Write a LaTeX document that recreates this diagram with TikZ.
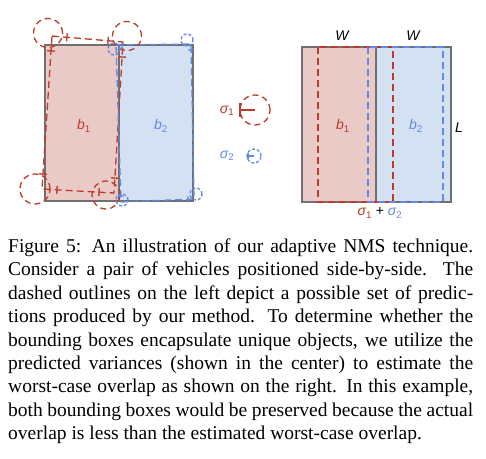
\documentclass[tikz,border=0pt]{standalone}
\usepackage{fontspec}
\setmainfont{Liberation Serif}
\setsansfont{Liberation Sans}
\usetikzlibrary{positioning, calc}

\definecolor{boxred}{RGB}{190,58,42}
\definecolor{boxblue}{RGB}{98,138,228}
\definecolor{fillred}{RGB}{233,202,198}
\definecolor{fillblue}{RGB}{212,225,243}
\definecolor{boxgray}{RGB}{112,112,112}

\tikzset{
	gtbox/.style={draw=boxgray, line width=1.6pt},
	reddash/.style={draw=boxred, line width=1.3pt, dash pattern=on 7pt off 4pt},
	bluedash/.style={draw=boxblue, line width=1.3pt, dash pattern=on 7pt off 4pt},
	redcirc/.style={shape=circle, reddash, dash pattern=on 6pt off 4pt, inner sep=0pt},
	bluecirc/.style={shape=circle, bluedash, dash pattern=on 3pt off 2pt, inner sep=0pt},
	lbl/.style={font=\sffamily\itshape\fontsize{14}{16}\selectfont, inner sep=0pt}
}

\newcommand{\sub}[1]{\textsubscript{\normalfont\sffamily #1}}

\begin{document}
\begin{tikzpicture}[x=1pt, y=-1pt]
	\useasboundingbox (0,0) rectangle (486,458);

	\coordinate (g1) at (45,45);
	\coordinate (g2) at (119,45);
	\coordinate (g3) at (193,45);
	\coordinate (g4) at (193,201);
	\coordinate (g5) at (119,201);
	\coordinate (g6) at (45,201);

	\fill[fillred] (g1) rectangle (g5);
	\fill[fillblue] (g2) rectangle (g4);
	\draw[gtbox] (g1) rectangle (g4);
	\draw[gtbox] (g2) -- (g5);

	\coordinate (r1) at (52,36);
	\coordinate (r2) at (123,42);
	\coordinate (r3) at (114,193);
	\coordinate (r4) at (42,189);
	\draw[reddash] (r1) -- (r2) -- (r3) -- (r4) -- cycle;

	\coordinate (u1) at (116,45);
	\coordinate (u2) at (191,44);
	\coordinate (u3) at (194,199);
	\coordinate (u4) at (121,202);
	\draw[bluedash] (u1) -- (u2) -- (u3) -- (u4) -- cycle;

	\node[redcirc, minimum size=29pt] (c1) at (48,33) {};
	\node[redcirc, minimum size=29pt] (c2) at (127,36) {};
	\node[redcirc, minimum size=28pt] (c3) at (106,195) {};
	\node[redcirc, minimum size=30pt] (c4) at (35,189) {};

	\node[bluecirc, minimum size=12pt] (d1) at (114,49) {};
	\node[bluecirc, minimum size=12pt] (d2) at (187,40) {};
	\node[bluecirc, minimum size=12pt] (d3) at (196,194) {};
	\node[bluecirc, minimum size=12pt] (d4) at (122,200) {};

	\foreach \a/\b in {r1/r2, r1/r4, r2/r1, r2/r3, r3/r2, r3/r4, r4/r1, r4/r3} {
		\draw[boxred, line width=1.3pt] ($(\a)!15pt!(\b)!4pt!90:(\b)$) -- ($(\a)!15pt!(\b)!4pt!-90:(\b)$);
	}
	\foreach \a/\b in {u1/u2, u2/u3, u3/u4, u4/u1} {
		\draw[boxblue, line width=1.2pt] ($(\a)!6pt!(\b)!3pt!90:(\b)$) -- ($(\a)!6pt!(\b)!3pt!-90:(\b)$);
	}

	\node[lbl, text=boxred] (b1) at (84,126) {b\sub{1}};
	\node[lbl, text=boxblue] (b2) at (161,126) {b\sub{2}};

	\node[lbl, text=boxred] (s1) at (227,111) {σ\sub{1}};
	\node[redcirc, minimum size=30pt] (v1) at (255,110) {};
	\coordinate (v1e) at (240,110);
	\draw[boxred, line width=1.3pt] (v1.center) -- (v1e);
	\draw[boxred, line width=1.3pt] ($(v1e)+(0,-7)$) -- ($(v1e)+(0,7)$);

	\node[lbl, text=boxblue] (s2) at (227,156) {σ\sub{2}};
	\node[bluecirc, minimum size=14pt] (v2) at (254,156) {};
	\coordinate (v2e) at (248,156);
	\draw[boxblue, line width=1.2pt] (v2.center) -- (v2e);
	\draw[boxblue, line width=1.2pt] ($(v2e)+(0,-3)$) -- ($(v2e)+(0,3)$);

	\coordinate (h1) at (302,47);
	\coordinate (h2) at (376,47);
	\coordinate (h3) at (451,202);
	\coordinate (h4) at (376,202);

	\fill[fillred] (h1) rectangle (h4);
	\fill[fillblue] (h2) rectangle (h3);
	\draw[gtbox] (h1) rectangle (h3);
	\draw[gtbox] (h2) -- (h4);
	\draw[reddash] (318,47) rectangle (393,202);
	\draw[bluedash] (368,47) rectangle (443,202);

	\node[lbl] (w1) at (342,36) {W};
	\node[lbl] (w2) at (413,36) {W};
	\node[lbl] (len) at (459,128) {L};
	\node[lbl, text=boxred] (b3) at (343,126) {b\sub{1}};
	\node[lbl, text=boxblue] (b4) at (416,126) {b\sub{2}};
	\node[lbl] (sum) at (380,213) {\textcolor{boxred}{σ\sub{1}} \textup{+} \textcolor{boxblue}{σ\sub{2}}};

	\node[anchor=north west, inner sep=0pt, text width=465pt, align=justify,
		font=\fontsize{19.5}{23.4}\selectfont] (cap) at (8,238.5) {%
Figure 5: An illustration of our adaptive NMS technique.\linebreak
Consider a pair of vehicles positioned side-by-side. The\linebreak
dashed outlines on the left depict a possible set of predic-\linebreak
tions produced by our method. To determine whether the\linebreak
bounding boxes encapsulate unique objects, we utilize the\linebreak
predicted variances (shown in the center) to estimate the\linebreak
worst-case overlap as shown on the right. In this example,\linebreak
both bounding boxes would be preserved because the actual\linebreak
overlap is less than the estimated worst-case overlap.};
\end{tikzpicture}
\end{document}
